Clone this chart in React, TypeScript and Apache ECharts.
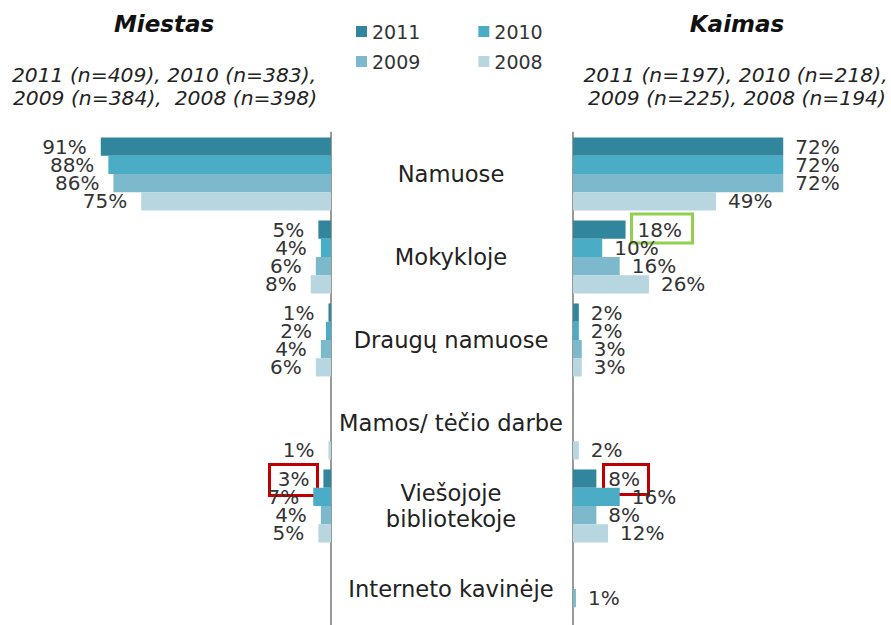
import React, { useEffect, useRef } from 'react';
import * as echarts from 'echarts';

const categories = ['Namuose', 'Mokykloje', 'Draugų namuose', 'Mamos/ tėčio darbe', 'Viešojoje\nbibliotekoje', 'Interneto kavinėje'];
const years = ['2011', '2010', '2009', '2008'];
const miestas2011 = [91, 5, 1, 0, 3, 0];
const miestas2010 = [88, 4, 2, 0, 7, 0];
const miestas2009 = [86, 6, 4, 0, 4, 0];
const miestas2008 = [75, 8, 6, 1, 5, 0];
const kaimas2011 = [72, 18, 2, 0, 8, 0];
const kaimas2010 = [72, 10, 2, 0, 16, 0];
const kaimas2009 = [72, 16, 3, 0, 8, 1];
const kaimas2008 = [49, 26, 3, 2, 12, 0];
const colors = ['#31859c', '#4bacc6', '#7cb9cd', '#b7d6e0'];
const titleMiestas = 'Miestas';
const titleKaimas = 'Kaimas';
const subMiestas = ['2011 (n=409), 2010 (n=383),', '2009 (n=384),  2008 (n=398)'];
const subKaimas = ['2011 (n=197), 2010 (n=218),', '2009 (n=225), 2008 (n=194)'];

const FONT = "'DejaVu Sans', Verdana, sans-serif";

export default function App() {
  const ref = useRef<HTMLDivElement>(null);
  useEffect(() => {
    if (!ref.current) return;
    const chart = echarts.init(ref.current, undefined, { renderer: 'svg' });
    const miestas = [miestas2011, miestas2010, miestas2009, miestas2008];
    const kaimas = [kaimas2011, kaimas2010, kaimas2009, kaimas2008];
    const fmt = (p: any) => (p.value ? p.value + '%' : '');
    const series: any[] = [];
    years.forEach((y, i) => {
      series.push({
        type: 'bar', name: y, xAxisIndex: 0, yAxisIndex: 0, data: miestas[i],
        itemStyle: { color: colors[i] }, barGap: '0%', barCategoryGap: '12%',
        label: { show: true, position: 'left', distance: 14, formatter: fmt, fontSize: 20, fontFamily: FONT, color: '#333' },
      });
      series.push({
        type: 'bar', name: y, xAxisIndex: 1, yAxisIndex: 1, data: kaimas[i],
        itemStyle: { color: colors[i] }, barGap: '0%', barCategoryGap: '12%',
        label: { show: true, position: 'right', distance: 12, formatter: fmt, fontSize: 20, fontFamily: FONT, color: '#333' },
      });
    });
    const subStyle = { fontSize: 20.3, fontStyle: 'italic', fontFamily: FONT, fill: '#222', textAlign: 'center', textVerticalAlign: 'middle' };
    const titleStyle = { fontSize: 23, fontStyle: 'italic', fontWeight: 'bold', fontFamily: FONT, fill: '#111', textAlign: 'center', textVerticalAlign: 'middle' };
    const legendText = { fontSize: 19, fontFamily: FONT, color: '#333' };
    chart.setOption({
      animation: false,
      legend: [
        { data: ['2011', '2010'], left: 351, top: 17, itemGap: 58, icon: 'rect', itemWidth: 11, itemHeight: 11, textStyle: legendText },
        { data: ['2009', '2008'], left: 351, top: 47, itemGap: 58, icon: 'rect', itemWidth: 11, itemHeight: 11, textStyle: legendText },
      ],
      grid: [
        { left: 78, width: 253, top: 132.5, height: 498 },
        { left: 573, width: 292, top: 132.5, height: 498 },
      ],
      xAxis: [
        { type: 'value', gridIndex: 0, min: 0, max: 100, inverse: true, show: false },
        { type: 'value', gridIndex: 1, min: 0, max: 100, show: false },
      ],
      yAxis: [
        { type: 'category', gridIndex: 0, data: categories, inverse: true, position: 'right',
          axisLine: { show: true, lineStyle: { color: '#9a9a9a', width: 2 } }, axisTick: { show: false }, axisLabel: { show: false } },
        { type: 'category', gridIndex: 1, data: categories, inverse: true, position: 'left',
          axisLine: { show: true, lineStyle: { color: '#9a9a9a', width: 2 } }, axisTick: { show: false },
          axisLabel: { show: true, align: 'center', margin: 122, fontSize: 22.6, lineHeight: 26, fontFamily: FONT, color: '#222' } },
      ],
      series,
      graphic: [
        { type: 'text', x: 164, y: 24, style: { ...titleStyle, text: titleMiestas } },
        { type: 'text', x: 737, y: 24, style: { ...titleStyle, text: titleKaimas } },
        { type: 'text', x: 164, y: 75, style: { ...subStyle, text: subMiestas[0] } },
        { type: 'text', x: 165, y: 98, style: { ...subStyle, text: subMiestas[1] } },
        { type: 'text', x: 735.5, y: 75, style: { ...subStyle, text: subKaimas[0] } },
        { type: 'text', x: 737, y: 98, style: { ...subStyle, text: subKaimas[1] } },
        { type: 'rect', shape: { x: 631.5, y: 214, width: 61, height: 29 }, style: { fill: 'none', stroke: '#92d050', lineWidth: 3 } },
        { type: 'rect', shape: { x: 269.5, y: 464.5, width: 48, height: 31 }, style: { fill: 'none', stroke: '#c00000', lineWidth: 3 } },
        { type: 'rect', shape: { x: 603.5, y: 464.5, width: 45, height: 30 }, style: { fill: 'none', stroke: '#c00000', lineWidth: 3 } },
      ],
    });
    return () => chart.dispose();
  }, []);
  return (
    <div style={{ position: 'fixed', left: 0, top: 0, width: 891, height: 625, overflow: 'hidden', background: '#fff' }}>
      <div ref={ref} style={{ width: 891, height: 645 }} />
    </div>
  );
}
